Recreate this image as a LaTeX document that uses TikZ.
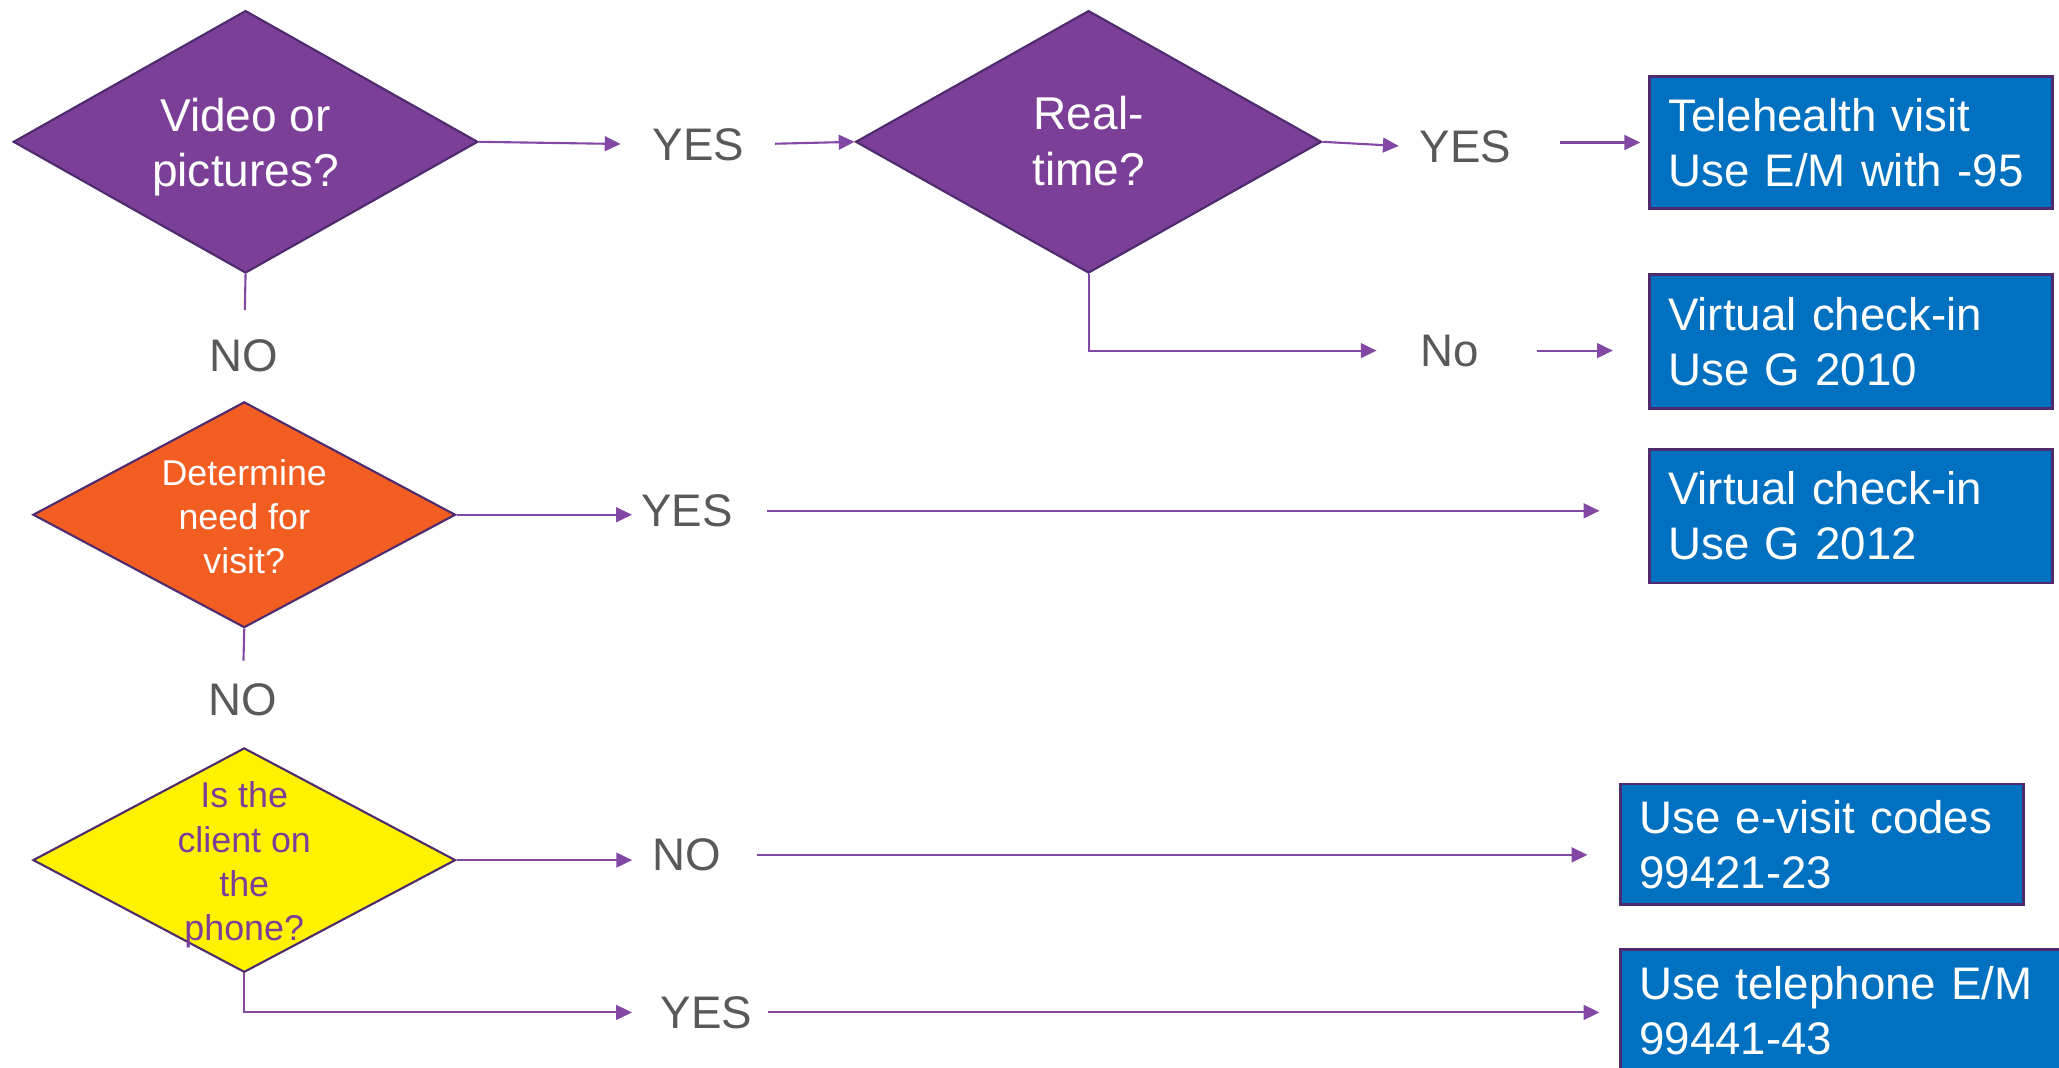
\documentclass[tikz,border=0pt]{standalone}
\usepackage{fontspec}
\setmainfont{Liberation Sans}
\usetikzlibrary{shapes.geometric,arrows.meta}
\definecolor{violetfill}{HTML}{7B3F98}
\definecolor{violetedge}{HTML}{4E2A6E}
\definecolor{violetline}{HTML}{8248A3}
\definecolor{codeblue}{HTML}{0070C0}
\definecolor{orangefill}{HTML}{F25E22}
\definecolor{labelgray}{HTML}{595959}
\begin{document}
\begin{tikzpicture}[x=0.013131cm, y=-0.013131cm,
  question/.style={diamond, draw=violetedge, line width=0.6pt, inner sep=0pt},
  bigtext/.style={font=\fontsize{13.1}{15.7}\selectfont, align=center, text=white},
  smalltext/.style={font=\fontsize{10.2}{12.6}\selectfont, align=center},
  codebox/.style={rectangle, draw=violetedge, line width=0.8pt, fill=codeblue, text=white,
    font=\fontsize{13}{15.7}\selectfont, align=left, inner xsep=5.35pt, inner ysep=0pt, text width=104pt},
  answer/.style={text=labelgray, font=\fontsize{13}{15}\selectfont, inner sep=0pt},
  arr/.style={-{Triangle[length=4.5pt, width=4.2pt]}, draw=violetline, line width=0.6pt},
  stem/.style={draw=violetline, line width=0.6pt}]
\useasboundingbox (0,0) rectangle (1568,813);

\node[question, fill=violetfill, minimum width=4.648cm, minimum height=2.626cm] (video) at (187,108) {};
\node[bigtext, yshift=-1.4pt] at (video) {Video or\\pictures?};
\node[question, fill=violetfill, minimum width=4.662cm, minimum height=2.626cm] (realtime) at (829,108) {};
\node[bigtext, yshift=0.2pt] at (realtime) {Real-\\time?};
\node[question, fill=orangefill, minimum width=4.228cm, minimum height=2.259cm] (need) at (186,392) {};
\node[smalltext, text=white, yshift=-0.6pt] at (need) {Determine\\need for\\visit?};
\node[question, fill=yellow, minimum width=4.228cm, minimum height=2.245cm] (phone) at (186,655) {};
\node[smalltext, text=violetfill, yshift=-1.4pt] at (phone) {Is the\\client on\\the\\phone?};

\node[codebox, minimum height=1.326cm] (tele) at (1409.5,108.5) {Telehealth visit\\\mbox{Use E/M with -95}};
\node[codebox, minimum height=1.339cm] (g2010) at (1409.5,260) {Virtual check-in\\Use G 2010};
\node[codebox, minimum height=1.339cm] (g2012) at (1409.5,393) {Virtual check-in\\Use G 2012};
\node[codebox, minimum height=1.208cm] (evisit) at (1387.5,643) {\mbox{Use e-visit codes}\\99421-23};
\node[codebox, minimum height=1.221cm, text width=116.7pt] (phonebox) at (1404.5,769.5) {\mbox{Use telephone E/M}\\99441-43};

\node[answer] (yesA) at (532,110) {YES};
\node[answer] (noA) at (186,271) {NO};
\node[answer] (yesB) at (1116,112) {YES};
\node[answer] (noB) at (1104,267) {No};
\node[answer] (yesC) at (523,389) {YES};
\node[answer] (noC) at (185,533) {NO};
\node[answer] (noD) at (523,651) {NO};
\node[answer] (yesD) at (538,771) {YES};

\draw[arr, shorten >=9pt] (video.east) -- (yesA.west);
\draw[arr, shorten <=8.6pt] (yesA.east) -- (realtime.west);
\draw[stem, shorten >=8.2pt] (video.south) -- (noA.north);
\draw[arr, shorten >=5.8pt] (realtime.east) -- (yesB.west);
\draw[arr, shorten <=13.8pt, shorten >=2.2pt] (yesB.east |- tele.west) -- (tele.west);
\draw[arr, shorten >=12.3pt] (realtime.south) |- (noB.west);
\draw[arr, shorten <=16.2pt, shorten >=10pt] (noB.east) -- (noB.east -| g2010.west);
\draw[arr, shorten >=2.4pt] (need.east) -- (need.east -| yesC.west);
\draw[arr, shorten <=9.7pt, shorten >=13.8pt] (yesC.east) -- (yesC.east -| g2012.west);
\draw[stem, shorten >=6.4pt] (need.south) -- (noC.north);
\draw[arr, shorten >=5.6pt] (phone.east) -- (phone.east -| noD.west);
\draw[arr, shorten <=10pt, shorten >=9pt] (noD.east) -- (noD.east -| evisit.west);
\draw[arr, shorten >=8pt] (phone.south) |- (yesD.west);
\draw[arr, shorten <=4.3pt, shorten >=5.6pt] (yesD.east) -- (yesD.east -| phonebox.west);
\end{tikzpicture}
\end{document}
